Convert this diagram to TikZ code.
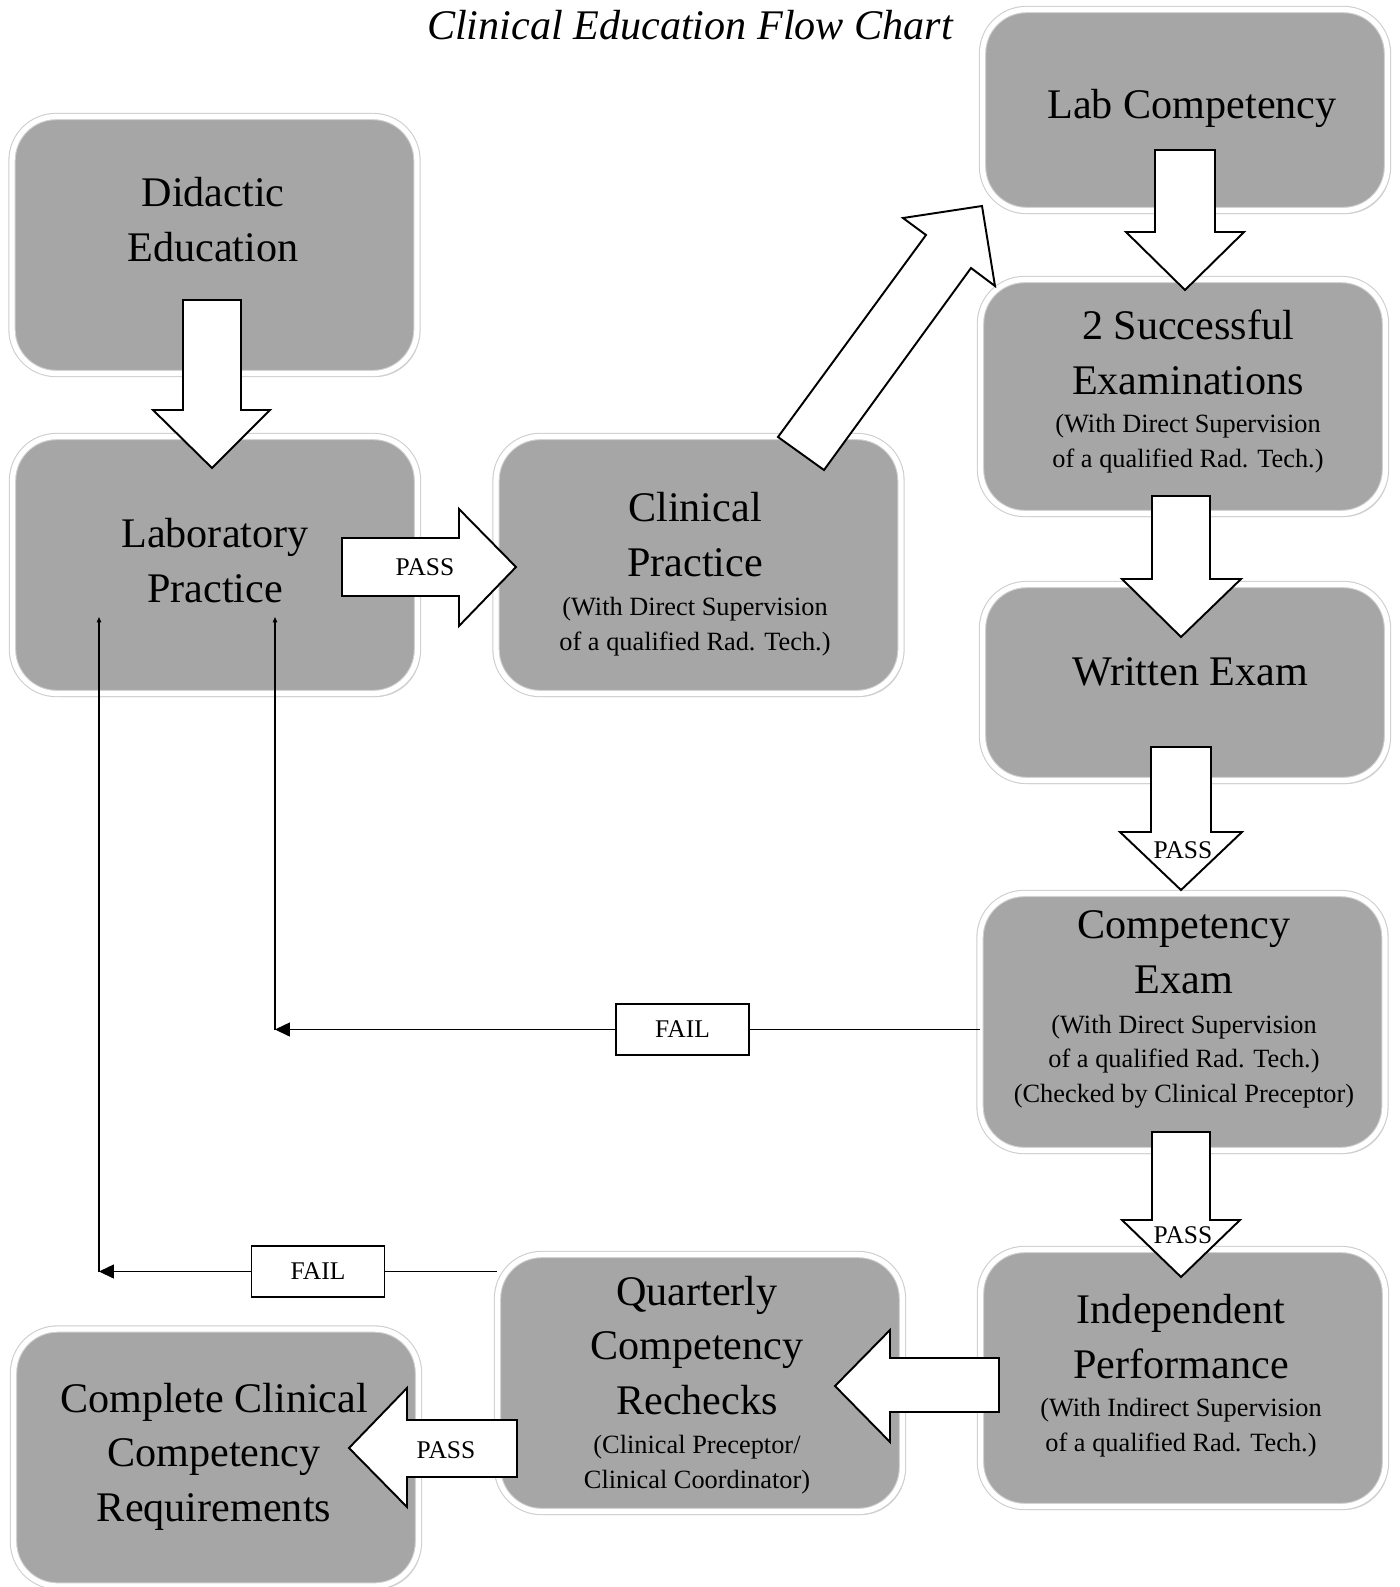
\documentclass[tikz,border=0pt]{standalone}
\usepackage{fontspec}
\setmainfont{Liberation Serif}
\usetikzlibrary{shadows,arrows.meta}

\definecolor{boxgray}{RGB}{166,166,166}
\definecolor{edgegray}{RGB}{205,205,205}

\begin{document}
\begin{tikzpicture}[x=0.02cm, y=-0.02cm,
        box/.style={draw=edgegray, double=white, double distance=3pt, line width=0.6pt,
            fill=boxgray, rounded corners=25pt, minimum width=8.1cm, minimum height=5.14cm,
            drop shadow={shadow xshift=1.5pt, shadow yshift=-2pt, opacity=0.3}},
        maintext/.style={font=\fontsize{24}{31}\selectfont, align=center, anchor=base, inner sep=0pt},
        subtext/.style={font=\fontsize{15}{19.5}\selectfont, align=center, anchor=base, inner sep=0pt},
        passtext/.style={font=\fontsize{14.5}{17}\selectfont, anchor=base, inner sep=0pt},
        failbox/.style={draw, line width=1pt, fill=white, minimum width=2.66cm, minimum height=1.02cm,
            inner sep=0pt, font=\fontsize{14.5}{17}\selectfont},
        blockarrow/.style={draw, fill=white, line width=1.1pt},
        thinline/.style={line width=0.6pt}]

            \useasboundingbox (0,0) rectangle (1400,1587);

            \node[font=\fontsize{24}{31}\selectfont\itshape, anchor=base] (title) at (690,39) {Clinical Education Flow Chart};

            % boxes
            \node[box] (did) at (214.5,245) {};
            \node[box] (lab) at (215,565) {};
            \node[box] (clin) at (698.5,565) {};
            \node[box, minimum height=4.02cm] (labcomp) at (1185,110) {};
            \node[box, minimum height=4.68cm] (succ) at (1183,396.5) {};
            \node[box, minimum height=3.92cm] (written) at (1185,682.5) {};
            \node[box] (compexam) at (1182.5,1022) {};
            \node[box] (indep) at (1183,1378) {};
            \node[box] (quart) at (700,1383) {};
            \node[box] (compl) at (216,1457.5) {};

            % block arrows
            \draw[blockarrow] (183,300) -- (241,300) -- (241,410) -- (270,410) -- (212,468) -- (153,410) -- (183,410) -- cycle;
            \draw[blockarrow] (342,538) -- (459,538) -- (459,509) -- (516,567) -- (459,626) -- (459,596) -- (342,596) -- cycle;
            \draw[blockarrow] (778,437) -- (926,235) -- (903,218) -- (982,206) -- (995,286) -- (971,268) -- (824,470) -- cycle;
            \draw[blockarrow] (1155,150) -- (1215,150) -- (1215,232) -- (1244,232) -- (1185,290) -- (1126,232) -- (1155,232) -- cycle;
            \draw[blockarrow] (1152,496) -- (1210,496) -- (1210,579) -- (1241,579) -- (1181,637) -- (1122,579) -- (1152,579) -- cycle;
            \draw[blockarrow] (1151,747) -- (1211,747) -- (1211,832) -- (1242,832) -- (1181,890) -- (1120,832) -- (1151,832) -- cycle;
            \draw[blockarrow] (1152,1132) -- (1210,1132) -- (1210,1220) -- (1240,1220) -- (1181,1277) -- (1122,1220) -- (1152,1220) -- cycle;
            \draw[blockarrow] (999,1358) -- (890,1358) -- (890,1330) -- (835,1386) -- (890,1442) -- (890,1412) -- (999,1412) -- cycle;
            \draw[blockarrow] (517,1420) -- (407,1420) -- (407,1388) -- (349,1448) -- (407,1507) -- (407,1477) -- (517,1477) -- cycle;

            % texts (base = last line)
            \node[maintext] (didtext) at (213,261) {Didactic\\Education};
            \node[maintext] (labtext) at (215,602) {Laboratory\\Practice};
            \node[maintext] (clintext) at (695,576) {Clinical\\Practice};
            \node[subtext] (clinsub) at (695,650) {(With Direct Supervision\\of a qualified Rad. Tech.)};
            \node[maintext] (labcomptext) at (1192,118) {Lab Competency};
            \node[maintext] (succtext) at (1188,394) {2 Successful\\Examinations};
            \node[subtext] (succsub) at (1188,467) {(With Direct Supervision\\of a qualified Rad. Tech.)};
            \node[maintext] (writtentext) at (1190,685) {Written Exam};
            \node[maintext] (compexamtext) at (1184,993) {Competency\\Exam};
            \node[subtext] (compexamsub) at (1184,1102) {(With Direct Supervision\\of a qualified Rad. Tech.)\\(Checked by Clinical Preceptor)};
            \node[maintext] (indeptext) at (1181,1378) {Independent\\Performance};
            \node[subtext] (indepsub) at (1181,1451) {(With Indirect Supervision\\of a qualified Rad. Tech.)};
            \node[maintext] (quarttext) at (697,1414) {Quarterly\\Competency\\Rechecks};
            \node[subtext] (quartsub) at (697,1488) {(Clinical Preceptor/\\Clinical Coordinator)};
            \node[maintext] (compltext) at (214,1521) {Complete Clinical\\Competency\\Requirements};

            \node[passtext] (pass1) at (425,575) {PASS};
            \node[passtext] (pass2) at (1183,858) {PASS};
            \node[passtext] (pass3) at (1183,1243) {PASS};
            \node[passtext] (pass4) at (446,1458) {PASS};

            % fail paths
            \node[failbox] (fail1) at (682.5,1029.5) {FAIL};
            \node[failbox] (fail2) at (318,1271.5) {FAIL};
            \coordinate (turn1) at (275,1029.5);
            \coordinate (top1) at (275,617);
            \coordinate (turn2) at (99,1271.5);
            \coordinate (top2) at (99,617);

            \draw[thinline] (fail1) -- (fail1 -| compexam.west);
            \draw[thinline, -{Triangle[length=8.5pt, width=8pt]}] (fail1) -- (turn1);
            \draw[thinline, -{Triangle[length=3pt, width=2.5pt]}] (turn1) -- (top1);
            \draw[thinline] (fail2) -- (fail2 -| quart.west);
            \draw[thinline, -{Triangle[length=8.5pt, width=8pt]}] (fail2) -- (turn2);
            \draw[thinline, -{Triangle[length=3pt, width=2.5pt]}] (turn2) -- (top2);
        \end{tikzpicture}
\end{document}
